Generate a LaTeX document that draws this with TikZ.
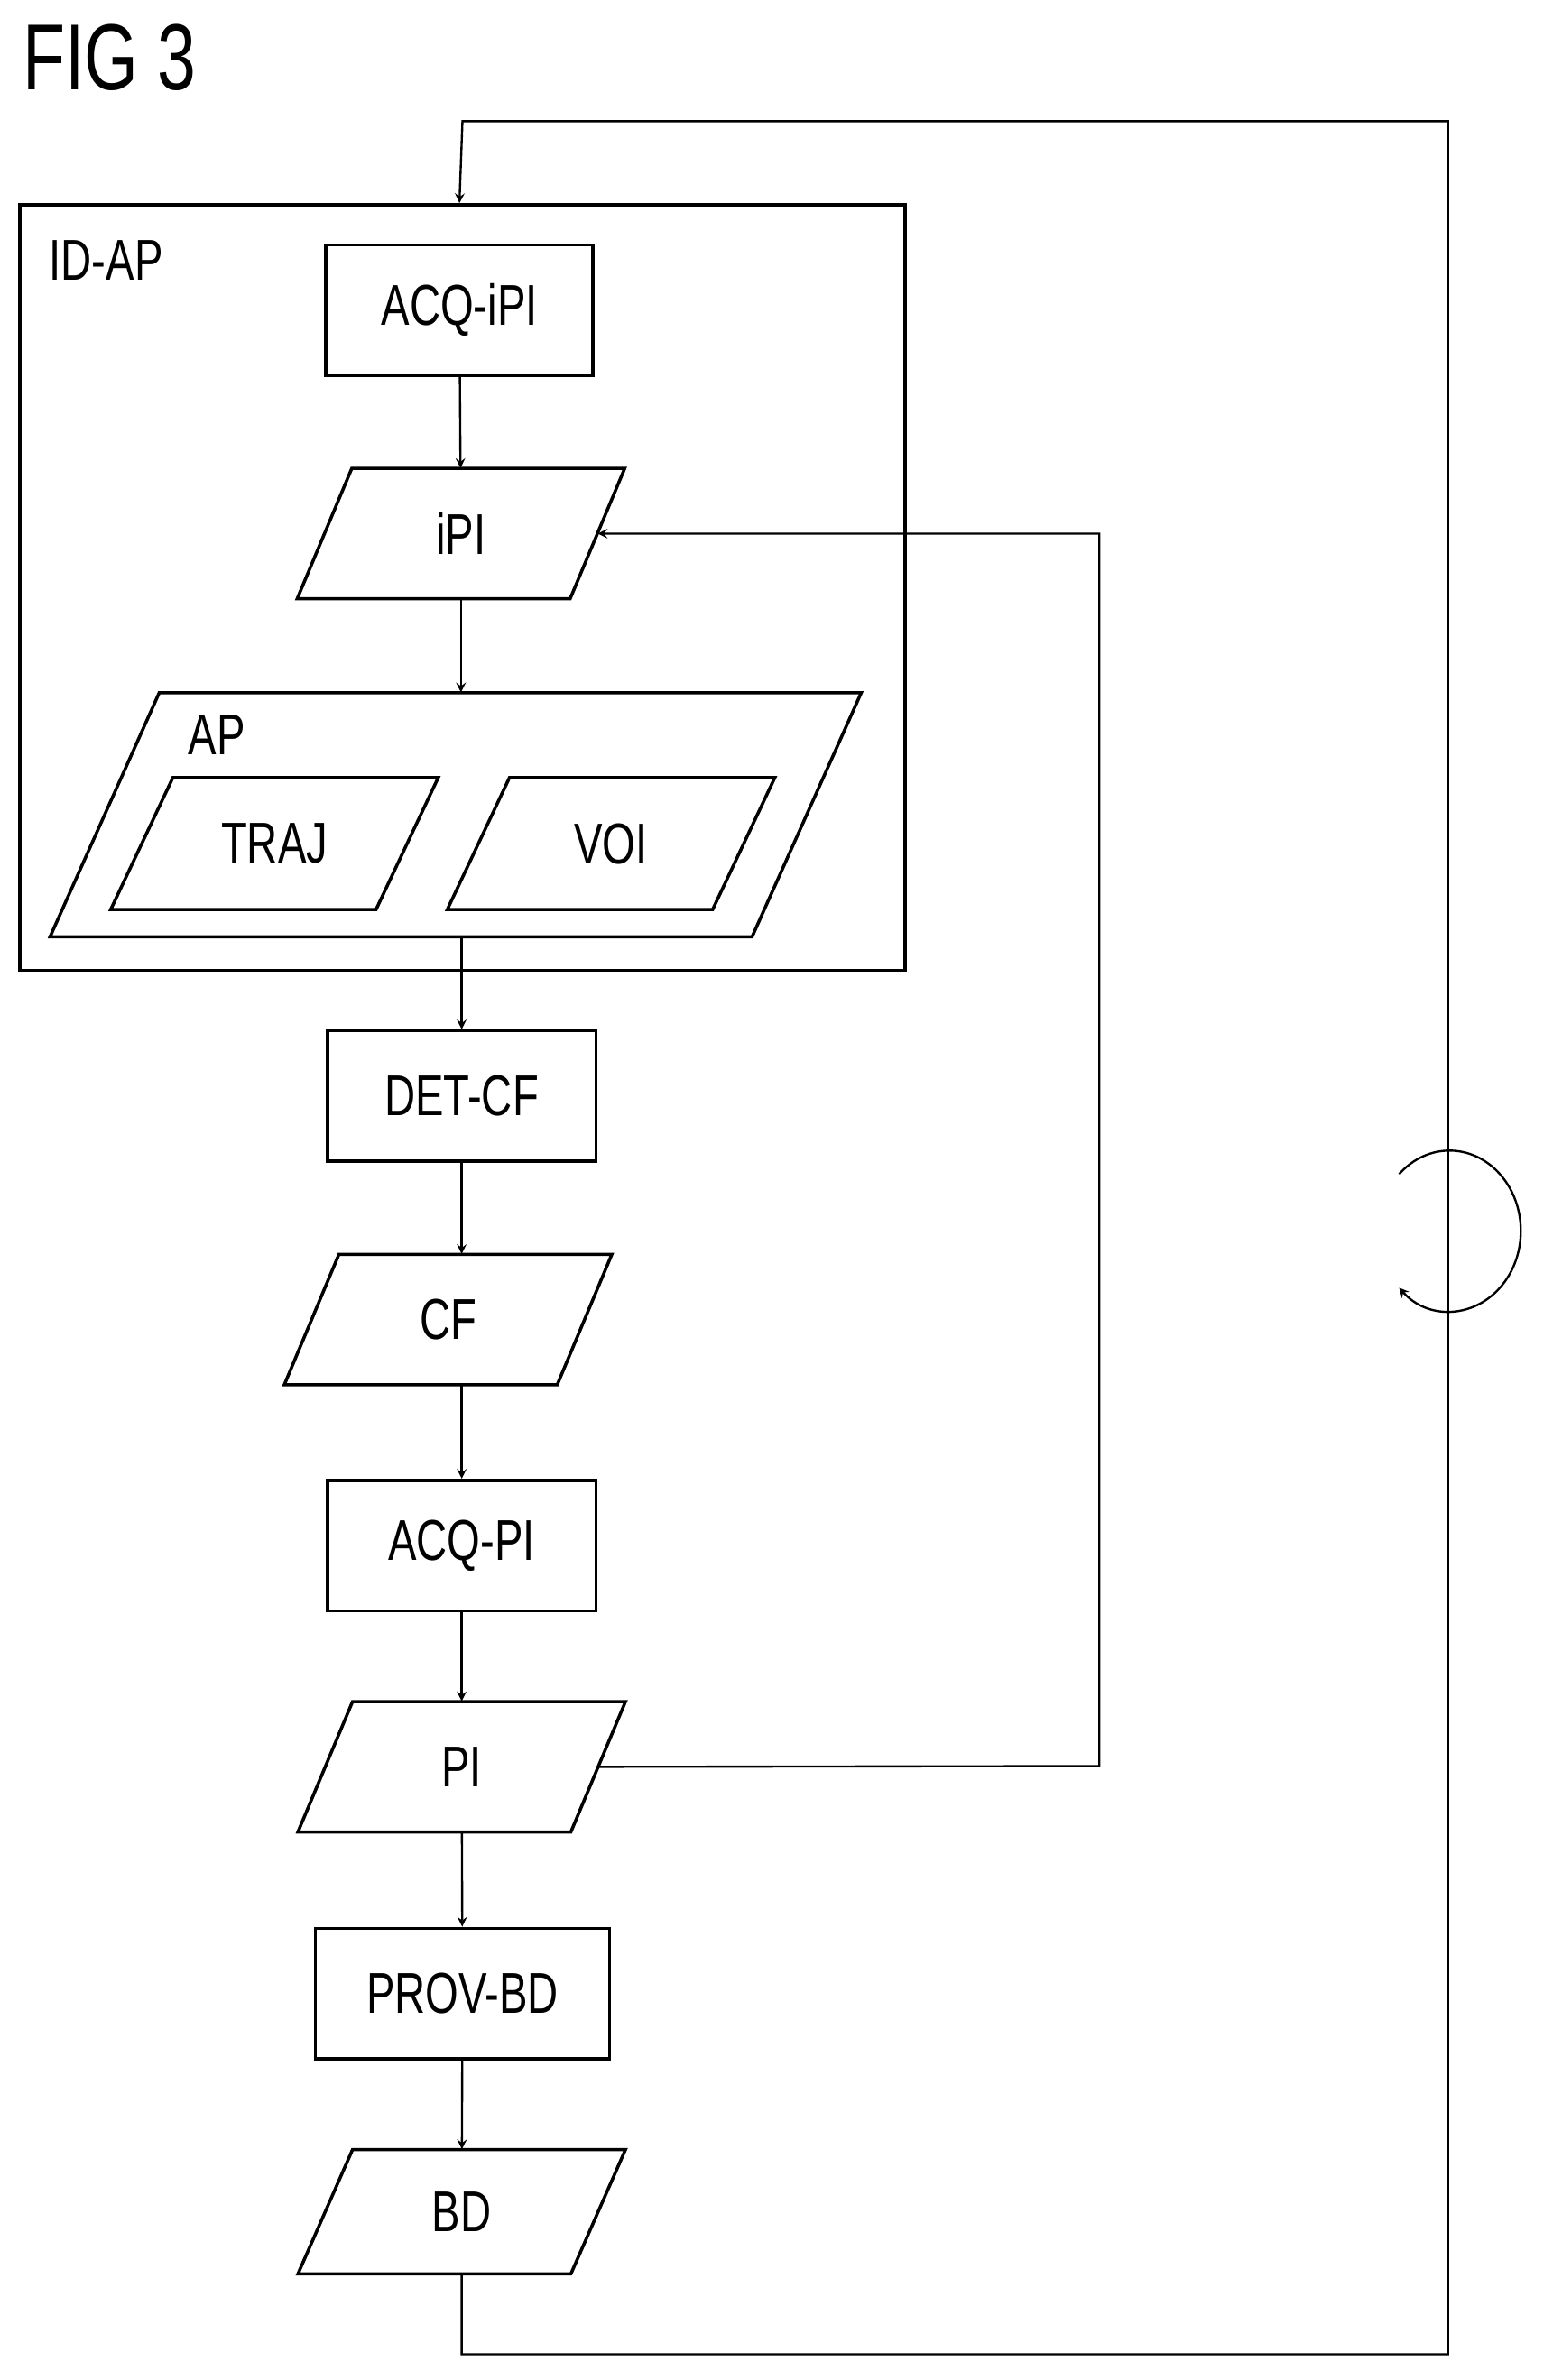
\documentclass[tikz,border=0pt]{standalone}
\usepackage{fontspec}
\setmainfont{Liberation Sans}[FakeStretch=0.74]
\usetikzlibrary{shapes}
\usetikzlibrary{arrows}
\usetikzlibrary{positioning}
\def\u{0.025cm}
% name, x, y, width, height, slant
\newcommand\datashape[7]{%
\draw[line width=1.5pt] ({#2-#4/2+#6/2},{#3-#5/2}) -- ++(#4,0) -- ++(-#6,#5) -- ++(-#4,0) -- cycle;
\node[minimum width=#4*\u,minimum height=#5*\u,inner sep=0pt] (#1) at (#2,#3) {#7};}
\begin{document}
\begin{tikzpicture}[x=0.025cm,y=-0.025cm,>=stealth,font=\fontsize{27}{30}\selectfont]
\tikzstyle{stepbox}=[rectangle,draw,line width=1.5pt,inner sep=0pt,minimum height=86*\u]
\tikzstyle{flow}=[->,line width=1pt]

\useasboundingbox (0,0) rectangle (1024,1570);
\node[anchor=west,font=\fontsize{44}{48}\selectfont] (fig) at (10,38) {FIG 3};

% outer box
\node[draw,line width=1.5pt,minimum width=584*\u,minimum height=505*\u] (idap) at (305,387.5) {};
\node (idaplabel) at (70,172) {ID-AP};

\node[stepbox,minimum width=176*\u] (acqipi) at (303,204.5) {ACQ-iPI};
\datashape{ipi}{304}{352}{180}{86}{36}{iPI}
\datashape{ap}{300.5}{537.5}{463}{161}{72}{}
\node (aplabel) at (143,485) {AP};
\datashape{traj}{181}{556.5}{175}{87}{41}{TRAJ}
\datashape{voi}{403}{556.5}{175}{87}{41}{VOI}

\node[stepbox,minimum width=177*\u] (detcf) at (304.5,723) {DET-CF};
\datashape{cf}{295.5}{870.5}{180}{86}{36}{CF}
\node[stepbox,minimum width=177*\u] (acqpi) at (304.5,1019.5) {ACQ-PI};
\datashape{pi}{304.5}{1165.5}{180}{86}{36}{PI}
\node[stepbox,minimum width=194*\u] (provbd) at (305,1315) {PROV-BD};
\datashape{bd}{304.5}{1459}{180}{82}{36}{BD}

\draw[flow] (acqipi) -- (ipi);
\draw[flow] (ipi) -- (ap.north -| ipi);
\draw[flow] (ap.south -| detcf) -- (detcf);
\draw[flow] (detcf) -- (cf.north -| detcf);
\draw[flow] (cf.south -| detcf) -- (acqpi);
\draw[flow] (acqpi) -- (pi);
\draw[flow] (pi) -- (provbd);
\draw[flow] (provbd) -- (bd);

% feedback loops
\coordinate (fb) at (725,1165);
\draw[flow] (pi.east) -- (fb) -- (fb |- ipi.east) -- (ipi.east);
\coordinate (loop) at (955,1553);
\draw[flow] (bd.south) -- (bd.south |- loop) -- (loop) -- (955,80) -- (305,80) -- (idap.north -| acqipi);

% repetition symbol
\draw[line width=1pt,->] (956,812) ++(225:47 and 53) arc[start angle=225,end angle=495,x radius=47,y radius=53];
\end{tikzpicture}
\end{document}
